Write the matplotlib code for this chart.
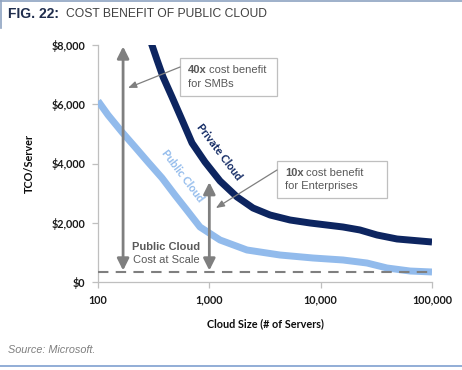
import matplotlib
matplotlib.use('Agg')
import matplotlib.pyplot as plt
from matplotlib.patches import Rectangle
from matplotlib.lines import Line2D

# data (cloud size in servers, TCO per server in $)
private_size = [290, 305, 339, 384, 462, 569, 699, 914, 1247, 1774, 2468, 3508, 5306, 8020,
	15850, 22540, 32050, 48500, 100000]
private_tco = [8250, 8000, 7495, 6921, 6246, 5469, 4693, 4051, 3410, 2870, 2498, 2262, 2093, 1992,
	1857, 1756, 1587, 1452, 1350]
public_size = [100, 123, 164, 215, 281, 376, 491, 630, 824, 1247, 2179, 4310, 8540, 15850,
	26060, 39450, 63450, 100000]
public_tco = [6110, 5638, 5064, 4558, 4051, 3511, 2937, 2420, 1857, 1418, 1080, 911, 810, 743,
	641, 473, 371, 338]
scale_cost = 348
arrow_x = [168, 1000]
arrow_top = [7950, 3370]

x_ticks = [100, 1000, 10000, 100000]
x_labels = ['100', '1,000', '10,000', '100,000']
y_ticks = [0, 2000, 4000, 6000, 8000]
y_labels = ['$0', '$2,000', '$4,000', '$6,000', '$8,000']

navy = '#0d2560'
light = '#92bbec'
grey = '#7f7f7f'
text_grey = '#595959'

fig = plt.figure(figsize=(4.62, 3.70), dpi=100)
W, H = 462.0, 370.0
ax = fig.add_axes([98 / W, 1 - 282 / H, (432 - 98) / W, (282 - 45) / H])

ax.plot(public_size, public_tco, color=light, lw=5, solid_joinstyle='round', solid_capstyle='butt', zorder=3)
ax.plot(private_size, private_tco, color=navy, lw=5, solid_joinstyle='round', solid_capstyle='butt', zorder=4)
ax.axhline(scale_cost, color=grey, lw=1.5, dashes=(5, 3.5), zorder=5)

ax.set_xscale('log')
ax.set_xlim(100, 100000)
ax.set_ylim(0, 8000)
ax.set_xticks(x_ticks)
ax.set_xticklabels(x_labels)
ax.minorticks_off()
ax.set_yticks(y_ticks)
ax.set_yticklabels(y_labels)

for s in ['top', 'right']:
	ax.spines[s].set_visible(False)
for s in ['left', 'bottom']:
	ax.spines[s].set_color('#bfbfbf')
	ax.spines[s].set_linewidth(0.9)
ax.tick_params(axis='both', color='#bfbfbf', length=4, width=0.9, labelcolor='#1a1a1a', pad=5)
for lab in ax.get_xticklabels() + ax.get_yticklabels():
	lab.set_fontfamily('Lato')
	lab.set_fontweight('bold')
	lab.set_fontsize(7.8)

ax.set_xlabel('Cloud Size (# of Servers)', family='Lato', fontweight='bold', fontsize=7.8, labelpad=9, color='#0d0d0d')
ax.set_ylabel('TCO/Server', family='Lato', fontweight='bold', fontsize=7.8, labelpad=12, color='#0d0d0d')

# double arrows down to public cloud cost at scale
for xa, ya in zip(arrow_x, arrow_top):
	ax.annotate('', xy=(xa, ya), xytext=(xa, scale_cost + 40),
		arrowprops=dict(arrowstyle='<|-|>,head_length=0.7,head_width=0.35', color=grey, lw=2, shrinkA=0, shrinkB=0), zorder=6)

# curve labels
ax.text(0.362, 0.55, 'Private Cloud', transform=ax.transAxes, rotation=-53, family='Lato', fontweight='bold',
	fontsize=8, color=navy, ha='center', va='center', rotation_mode='anchor')
ax.text(0.252, 0.448, 'Public Cloud', transform=ax.transAxes, rotation=-53, family='Lato', fontweight='bold',
	fontsize=8, color=light, ha='center', va='center', rotation_mode='anchor')

ax.text(0.205, 0.147, 'Public Cloud', transform=ax.transAxes, family='Liberation Sans', fontweight='bold',
	fontsize=8, color=text_grey, ha='center', va='center')
ax.text(0.205, 0.093, 'Cost at Scale', transform=ax.transAxes, family='Liberation Sans',
	fontsize=8, color=text_grey, ha='center', va='center')

# annotation boxes
def callout(x0, x1, y0, y1, bold, rest, line2, start, end):
	ax.add_patch(Rectangle((x0, y0), x1 - x0, y1 - y0, transform=ax.transAxes, facecolor='white',
		edgecolor='#bfbfbf', lw=0.9, zorder=7, clip_on=False))
	ty = (y0 + y1) / 2
	t = ax.text(x0 + 0.025, ty + 0.028, bold, transform=ax.transAxes, family='Liberation Sans', fontweight='bold',
		fontsize=8, color=text_grey, va='center', zorder=8)
	ax.annotate(rest, xycoords=t, xy=(1, 0.5), xytext=(1.5, 0), textcoords='offset points', va='center',
		family='Liberation Sans', fontsize=8, color=text_grey, zorder=8)
	ax.text(x0 + 0.025, ty - 0.028, line2, transform=ax.transAxes, family='Liberation Sans',
		fontsize=8, color=text_grey, va='center', zorder=8)
	ax.annotate('', xy=end, xytext=start, xycoords='axes fraction', textcoords='axes fraction',
		arrowprops=dict(arrowstyle='-|>,head_length=0.5,head_width=0.2', color=grey, lw=0.9, shrinkA=0, shrinkB=0), zorder=7)

callout(0.2455, 0.536, 0.785, 0.945, '40x', 'cost benefit', 'for SMBs', (0.2455, 0.907), (0.09, 0.819))
callout(0.536, 0.865, 0.354, 0.5105, '10x', 'cost benefit', 'for Enterprises', (0.536, 0.4726), (0.353, 0.312))

# header / footer
fig.text(8 / W, 1 - 14 / H, 'FIG. 22:', family='Liberation Sans', fontweight='bold', fontsize=10,
	color='#1f2d4d', va='center')
fig.text(66 / W, 1 - 14 / H, 'COST BENEFIT OF PUBLIC CLOUD', family='Liberation Sans', fontsize=8.7,
	color='#404040', va='center')
fig.text(8 / W, 1 - 350 / H, 'Source: Microsoft.', family='Liberation Sans', style='italic', fontsize=7.8,
	color=grey, va='center')
fig.add_artist(Line2D([0, 1], [1 - 0.5 / H, 1 - 0.5 / H], color='#8ea3c1', lw=1.2))
fig.add_artist(Line2D([1 / W, 1 / W], [1, 1 - 28 / H], color='#8ea3c1', lw=1.2))
fig.add_artist(Line2D([0, 1], [1 - 366 / H, 1 - 366 / H], color='#7f9fd0', lw=1.2))

plt.savefig('out.png', dpi=100)
